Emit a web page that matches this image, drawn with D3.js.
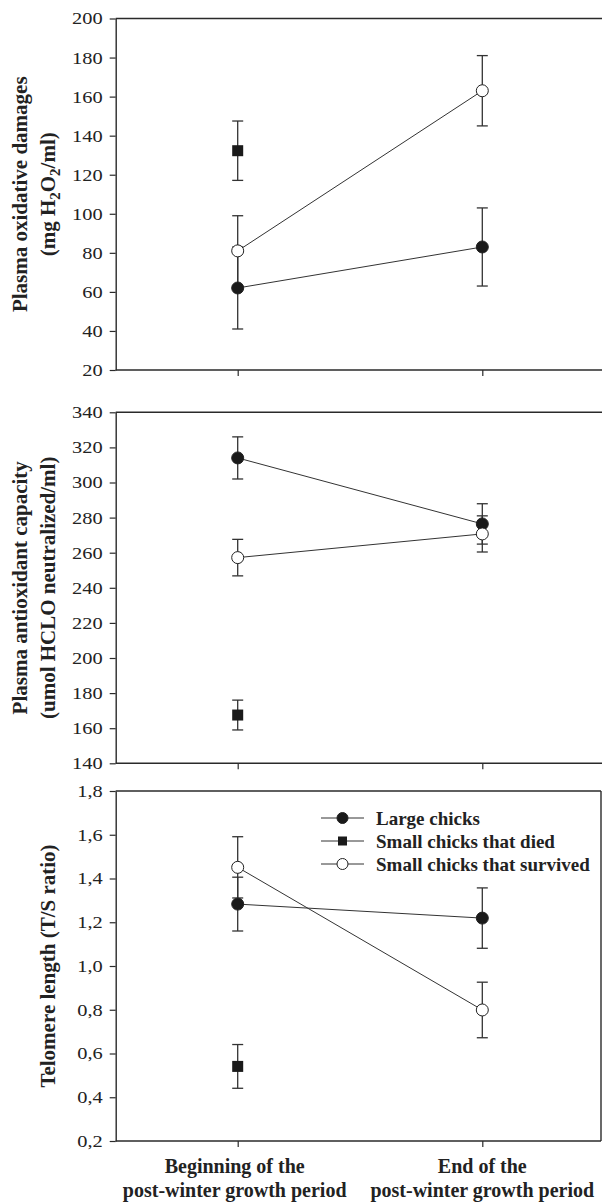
<!DOCTYPE html>
<html>
<head>
<meta charset="utf-8">
<script src="https://cdn.jsdelivr.net/npm/d3@7/dist/d3.min.js"></script>
<style>
  html, body { margin: 0; padding: 0; background: #fff; }
  svg { display: block; }
  text { font-family: "Liberation Serif", "Times New Roman", serif; fill: #222; }
</style>
</head>
<body>
<svg id="chart" width="602" height="1202"></svg>
<script>
// ---------- data ----------
const categories = ["Beginning", "End"];
const xLabelLines = [
  ["Beginning of the", "post-winter growth period"],
  ["End of the", "post-winter growth period"]
];
const seriesNames = ["Large chicks", "Small chicks that died", "Small chicks that survived"];

// Panel 1: plasma oxidative damages
const oxLarge = [62, 83];
const oxLargeErr = [21, 20];
const oxDied = [132.3, null];
const oxDiedErr = [15.2, null];
const oxSurv = [81, 163];
const oxSurvErr = [18, 18];
const oxTicks = [20, 40, 60, 80, 100, 120, 140, 160, 180, 200];
const oxTickLabels = ["20", "40", "60", "80", "100", "120", "140", "160", "180", "200"];

// Panel 2: plasma antioxidant capacity
const antLarge = [314, 276.4];
const antLargeErr = [12, 11.5];
const antDied = [167.5, null];
const antDiedErr = [8.5, null];
const antSurv = [257.2, 270.7];
const antSurvErr = [10.4, 10.3];
const antTicks = [140, 160, 180, 200, 220, 240, 260, 280, 300, 320, 340];
const antTickLabels = ["140", "160", "180", "200", "220", "240", "260", "280", "300", "320", "340"];

// Panel 3: telomere length
const telLarge = [1.283, 1.219];
const telLargeErr = [0.123, 0.138];
const telDied = [0.541, null];
const telDiedErr = [0.10, null];
const telSurv = [1.451, 0.799];
const telSurvErr = [0.14, 0.127];
const telTicks = [0.2, 0.4, 0.6, 0.8, 1.0, 1.2, 1.4, 1.6, 1.8];
const telTickLabels = ["0,2", "0,4", "0,6", "0,8", "1,0", "1,2", "1,4", "1,6", "1,8"];

// ---------- layout ----------
const svg = d3.select("#chart");
svg.append("rect").attr("width", 602).attr("height", 1202).attr("fill", "#fff");

const left = 115.7;
const x = d3.scalePoint().domain(categories).range([237.7, 482.3]);

const panels = [
  { top: 18.5, bottom: 370, domain: [20, 200], ticks: oxTicks, tickLabels: oxTickLabels,
    large: oxLarge, largeErr: oxLargeErr, died: oxDied, diedErr: oxDiedErr, surv: oxSurv, survErr: oxSurvErr,
    title: ["Plasma oxidative damages", "sub"], right: 602, border: false },
  { top: 412.3, bottom: 763.3, domain: [140, 340], ticks: antTicks, tickLabels: antTickLabels,
    large: antLarge, largeErr: antLargeErr, died: antDied, diedErr: antDiedErr, surv: antSurv, survErr: antSurvErr,
    title: ["Plasma antioxidant capacity", "(umol HCLO neutralized/ml)"], right: 602, border: false },
  { top: 791, bottom: 1141, domain: [0.2, 1.8], ticks: telTicks, tickLabels: telTickLabels,
    large: telLarge, largeErr: telLargeErr, died: telDied, diedErr: telDiedErr, surv: telSurv, survErr: telSurvErr,
    title: ["Telomere length (T/S ratio)"], right: 601, border: true, legend: true }
];

const frameColor = "#2a2a2a";
const lineColor = "#333";
const sx = 1.2;

panels.forEach((p, pi) => {
  const y = d3.scaleLinear().domain(p.domain).range([p.bottom, p.top]);
  const g = svg.append("g");

  // left axis
  const ax = g.append("g").attr("transform", `translate(${left},0)`)
    .call(d3.axisLeft(y).tickValues(p.ticks).tickSize(6).tickSizeOuter(0)
      .tickFormat((d, i) => p.tickLabels[i]));
  ax.select(".domain").attr("stroke", frameColor).attr("stroke-width", 1.4);
  ax.selectAll(".tick line").attr("stroke", frameColor).attr("stroke-width", 1.2);
  ax.selectAll(".tick text")
    .attr("font-size", 17).attr("font-family", "Liberation Serif, serif").attr("fill", "#222")
    .attr("x", -13 / sx).attr("transform", `scale(${sx},1)`);

  // top & bottom lines, right border
  g.append("line").attr("x1", left).attr("x2", p.right).attr("y1", p.top).attr("y2", p.top)
    .attr("stroke", frameColor).attr("stroke-width", 1.4);
  g.append("line").attr("x1", left).attr("x2", p.right).attr("y1", p.bottom).attr("y2", p.bottom)
    .attr("stroke", frameColor).attr("stroke-width", 1.4);
  if (p.border) {
    g.append("line").attr("x1", p.right).attr("x2", p.right).attr("y1", p.top).attr("y2", p.bottom)
      .attr("stroke", frameColor).attr("stroke-width", 1.4);
  }

  // bottom ticks
  const bx = g.append("g").attr("transform", `translate(0,${p.bottom})`)
    .call(d3.axisBottom(x).tickSize(6).tickFormat(""));
  bx.select(".domain").remove();
  bx.selectAll(".tick line").attr("stroke", frameColor).attr("stroke-width", 1.2);

  // y title
  const midY = (p.top + p.bottom) / 2;
  if (p.title.length === 2) {
    const t1 = g.append("text").attr("transform", `translate(27,${midY}) rotate(-90)`)
      .attr("text-anchor", "middle").attr("font-size", 21).attr("font-weight", "bold")
      .text(p.title[0]);
    const t2 = g.append("text").attr("transform", `translate(55,${midY}) rotate(-90)`)
      .attr("text-anchor", "middle").attr("font-size", 21).attr("font-weight", "bold");
    if (p.title[1] === "sub") {
      t2.append("tspan").text("(mg H");
      t2.append("tspan").attr("dy", 5).attr("font-size", 15).text("2");
      t2.append("tspan").attr("dy", -5).text("O");
      t2.append("tspan").attr("dy", 5).attr("font-size", 15).text("2");
      t2.append("tspan").attr("dy", -5).text("/ml)");
    } else {
      t2.text(p.title[1]);
    }
  } else {
    g.append("text").attr("transform", `translate(55,${midY}) rotate(-90)`)
      .attr("text-anchor", "middle").attr("font-size", 21).attr("font-weight", "bold")
      .text(p.title[0]);
  }

  const series = [
    { key: "large", vals: p.large, err: p.largeErr, shape: "circle", fill: "#1a1a1a" },
    { key: "died", vals: p.died, err: p.diedErr, shape: "square", fill: "#1a1a1a" },
    { key: "surv", vals: p.surv, err: p.survErr, shape: "circle", fill: "#fff" }
  ];

  const lineGen = d3.line().defined(d => d.v != null).x(d => x(d.c)).y(d => y(d.v));
  series.forEach(s => {
    const pts = categories.map((c, i) => ({ c, v: s.vals[i], e: s.err[i] }));
    g.append("path").datum(pts).attr("d", lineGen)
      .attr("fill", "none").attr("stroke", lineColor).attr("stroke-width", 1);
  });

  series.forEach(s => {
    const pts = categories.map((c, i) => ({ c, v: s.vals[i], e: s.err[i] })).filter(d => d.v != null);
    const eb = g.append("g");
    pts.forEach(d => {
      const cx = x(d.c), y1 = y(d.v + d.e), y2 = y(d.v - d.e);
      eb.append("line").attr("x1", cx).attr("x2", cx).attr("y1", y1).attr("y2", y2)
        .attr("stroke", lineColor).attr("stroke-width", 1.3);
      [y1, y2].forEach(yy => eb.append("line").attr("x1", cx - 5.5).attr("x2", cx + 5.5)
        .attr("y1", yy).attr("y2", yy).attr("stroke", lineColor).attr("stroke-width", 1.3));
    });
  });

  series.forEach(s => {
    const pts = categories.map((c, i) => ({ c, v: s.vals[i] })).filter(d => d.v != null);
    pts.forEach(d => {
      if (s.shape === "circle") {
        g.append("circle").attr("cx", x(d.c)).attr("cy", y(d.v)).attr("r", 6)
          .attr("fill", s.fill).attr("stroke", "#222").attr("stroke-width", 1);
      } else {
        g.append("rect").attr("x", x(d.c) - 5.5).attr("y", y(d.v) - 5.5)
          .attr("width", 11).attr("height", 11).attr("fill", s.fill);
      }
    });
  });

  if (p.legend) {
    const lg = g.append("g");
    const rows = [818, 841, 864];
    const shapes = [["circle", "#1a1a1a"], ["square", "#1a1a1a"], ["circle", "#fff"]];
    seriesNames.forEach((name, i) => {
      const ry = rows[i];
      lg.append("line").attr("x1", 321).attr("x2", 364).attr("y1", ry).attr("y2", ry)
        .attr("stroke", lineColor).attr("stroke-width", 1);
      if (shapes[i][0] === "circle") {
        lg.append("circle").attr("cx", 342.5).attr("cy", ry).attr("r", 5.5)
          .attr("fill", shapes[i][1]).attr("stroke", "#222").attr("stroke-width", 1);
      } else {
        lg.append("rect").attr("x", 338).attr("y", ry - 4.5).attr("width", 9).attr("height", 9)
          .attr("fill", shapes[i][1]);
      }
      lg.append("text").attr("x", 376).attr("y", ry + 6.5).attr("font-size", 19)
        .attr("font-weight", "bold").text(name);
    });
  }
});

// x-axis category labels
categories.forEach((c, i) => {
  const t = svg.append("text").attr("text-anchor", "middle").attr("font-size", 20).attr("font-weight", "bold");
  xLabelLines[i].forEach((ln, j) => {
    t.append("tspan").attr("x", x(c) - (i === 0 ? 3 : 0)).attr("y", 1173 + j * 24).text(ln);
  });
});
</script>
</body>
</html>
